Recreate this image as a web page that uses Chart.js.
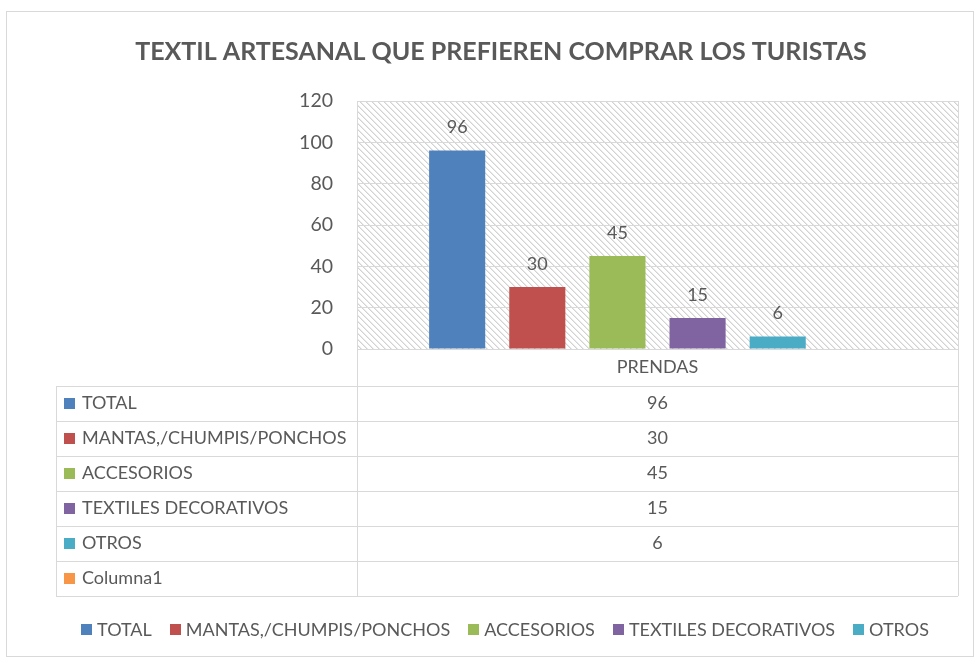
<!DOCTYPE html>
<html>
<head>
<meta charset="utf-8">
<script src="https://cdn.jsdelivr.net/npm/chart.js@4.4.0/dist/chart.umd.min.js"></script>
<style>
  html, body { margin: 0; padding: 0; background: #fff; }
  #wrap { width: 975px; height: 661px; }
</style>
</head>
<body>
<div id="wrap"><canvas id="chart"></canvas></div>
<script>
// Datos del gráfico
const categories = ['PRENDAS'];
const seriesNames = ['TOTAL', 'MANTAS,/CHUMPIS/PONCHOS', 'ACCESORIOS', 'TEXTILES DECORATIVOS', 'OTROS', 'Columna1'];
const totalValues = [96];
const mantasValues = [30];
const accesoriosValues = [45];
const textilesValues = [15];
const otrosValues = [6];
const columna1Values = [null];
const yTicks = [0, 20, 40, 60, 80, 100, 120];

const seriesValues = [totalValues, mantasValues, accesoriosValues, textilesValues, otrosValues, columna1Values];
const seriesColors = ['#4F81BD', '#C0504D', '#9BBB59', '#8064A2', '#4BACC6', '#F79646'];

const FONT = 'Lato';
const TEXT = '#595959';
const LINE = '#d9d9d9';
const PAD_LEFT = 44;

// patrón rayado del área de trazado
function makeHatch() {
    const n = 6;
    const c = document.createElement('canvas');
    c.width = n; c.height = n;
    const g = c.getContext('2d');
    g.fillStyle = '#fff';
    g.fillRect(0, 0, n, n);
    for (let i = 0; i < n; i++) {
        g.fillStyle = '#d2d2d2';
        g.fillRect(i, i, 1, 1);
        g.fillStyle = '#e9e9e9';
        g.fillRect((i + 1) % n, i, 1, 1);
    }
    return g.createPattern(c, 'repeat');
}

const framePlugin = {
    id: 'frame',
    beforeDraw(chart) {
        const ctx = chart.ctx, a = chart.chartArea;
        ctx.save();
        ctx.fillStyle = '#fff';
        ctx.fillRect(0, 0, chart.width, chart.height);
        ctx.strokeStyle = LINE;
        ctx.lineWidth = 1;
        ctx.strokeRect(6.5, 11.5, 967, 645);
        ctx.fillStyle = makeHatch();
        ctx.fillRect(a.left, a.top, a.right - a.left, a.bottom - a.top);
        ctx.restore();
    }
};

const labelsPlugin = {
    id: 'barLabels',
    afterDatasetsDraw(chart) {
        const ctx = chart.ctx;
        ctx.save();
        ctx.font = '18px ' + FONT;
        ctx.fillStyle = TEXT;
        ctx.textAlign = 'center';
        ctx.textBaseline = 'middle';
        chart.data.datasets.forEach((ds, i) => {
            chart.getDatasetMeta(i).data.forEach((el, j) => {
                const v = ds.data[j];
                if (v === null || v === undefined) return;
                ctx.fillText(String(v), el.x, el.y - 23);
            });
        });
        ctx.restore();
    }
};

const tablePlugin = {
    id: 'dataTable',
    afterDraw(chart) {
        const ctx = chart.ctx, a = chart.chartArea;
        const xs = chart.scales.x;
        const tableLeft = 56;
        const headerBottom = a.bottom + 37;
        const bottom = xs.bottom;
        const rowH = (bottom - headerBottom) / seriesNames.length;
        const px = v => Math.round(v) + 0.5;
        ctx.save();
        ctx.strokeStyle = LINE;
        ctx.lineWidth = 1;
        ctx.beginPath();
        ctx.moveTo(px(a.right), a.top); ctx.lineTo(px(a.right), bottom);
        ctx.moveTo(px(a.left), a.bottom); ctx.lineTo(px(a.left), bottom);
        ctx.moveTo(a.left, px(a.bottom)); ctx.lineTo(a.right, px(a.bottom));
        ctx.moveTo(px(tableLeft), headerBottom); ctx.lineTo(px(tableLeft), bottom);
        for (let r = 0; r <= seriesNames.length; r++) {
            const y = px(headerBottom + r * rowH);
            ctx.moveTo(tableLeft, y); ctx.lineTo(a.right, y);
        }
        ctx.stroke();

        ctx.font = '18px ' + FONT;
        ctx.fillStyle = TEXT;
        ctx.textBaseline = 'middle';
        ctx.textAlign = 'center';
        categories.forEach((cat, j) => {
            ctx.fillText(cat, xs.getPixelForValue(j), (a.bottom + headerBottom) / 2);
        });
        seriesNames.forEach((name, i) => {
            const cy = headerBottom + (i + 0.5) * rowH;
            ctx.fillStyle = seriesColors[i];
            ctx.fillRect(64, Math.round(cy - 6), 11, 11);
            ctx.fillStyle = TEXT;
            ctx.textAlign = 'left';
            ctx.fillText(name, 82, cy);
            ctx.textAlign = 'center';
            seriesValues[i].forEach((v, j) => {
                if (v === null) return;
                ctx.fillText(String(v), xs.getPixelForValue(j), cy);
            });
        });
        ctx.restore();
    }
};

// leyenda inferior al estilo de Excel (sin Columna1)
const legendPlugin = {
    id: 'bottomLegend',
    afterDraw(chart) {
        const ctx = chart.ctx;
        const items = chart.data.datasets.filter(ds => ds.label !== 'Columna1');
        const box = 11, gapText = 5, gapItem = 18;
        ctx.save();
        ctx.font = '18px ' + FONT;
        ctx.textBaseline = 'middle';
        ctx.textAlign = 'left';
        const widths = items.map(ds => box + gapText + ctx.measureText(ds.label).width);
        const total = widths.reduce((s, w) => s + w, 0) + gapItem * (items.length - 1);
        let x = 505 - total / 2;
        const cy = 630;
        items.forEach((ds, i) => {
            ctx.fillStyle = ds.backgroundColor;
            ctx.fillRect(Math.round(x), cy - 6, box, box);
            ctx.fillStyle = TEXT;
            ctx.fillText(ds.label, x + box + gapText, cy);
            x += widths[i] + gapItem;
        });
        ctx.restore();
    }
};

new Chart(document.getElementById('chart'), {
    type: 'bar',
    data: {
        labels: categories,
        datasets: seriesNames.map((name, i) => ({
            label: name,
            data: seriesValues[i],
            backgroundColor: seriesColors[i],
            borderWidth: 0,
            categoryPercentage: 0.8,
            barPercentage: 0.7
        }))
    },
    options: {
        responsive: true,
        maintainAspectRatio: false,
        animation: false,
        layout: { padding: { left: PAD_LEFT, right: 17, top: 0, bottom: 65 } },
        plugins: {
            title: {
                display: true,
                text: 'TEXTIL ARTESANAL QUE PREFIEREN COMPRAR LOS TURISTAS',
                color: TEXT,
                font: { family: FONT, size: 25, weight: 'bold', lineHeight: 1.2 },
                padding: { top: 37, bottom: 34 }
            },
            legend: { display: false },
            tooltip: { enabled: false }
        },
        scales: {
            x: {
                grid: { display: false },
                border: { display: false },
                ticks: { display: false },
                afterFit(scale) { scale.height = 247; }
            },
            y: {
                min: yTicks[0],
                max: yTicks[yTicks.length - 1],
                afterBuildTicks(scale) { scale.ticks = yTicks.map(v => ({ value: v })); },
                afterFit(scale) { scale.width = 357 - PAD_LEFT; },
                grid: { color: LINE, lineWidth: 1, drawTicks: false },
                border: { color: LINE },
                ticks: {
                    color: TEXT,
                    padding: 24,
                    font: { family: FONT, size: 19.5 }
                }
            }
        }
    },
    plugins: [framePlugin, labelsPlugin, tablePlugin, legendPlugin]
});
</script>
</body>
</html>
